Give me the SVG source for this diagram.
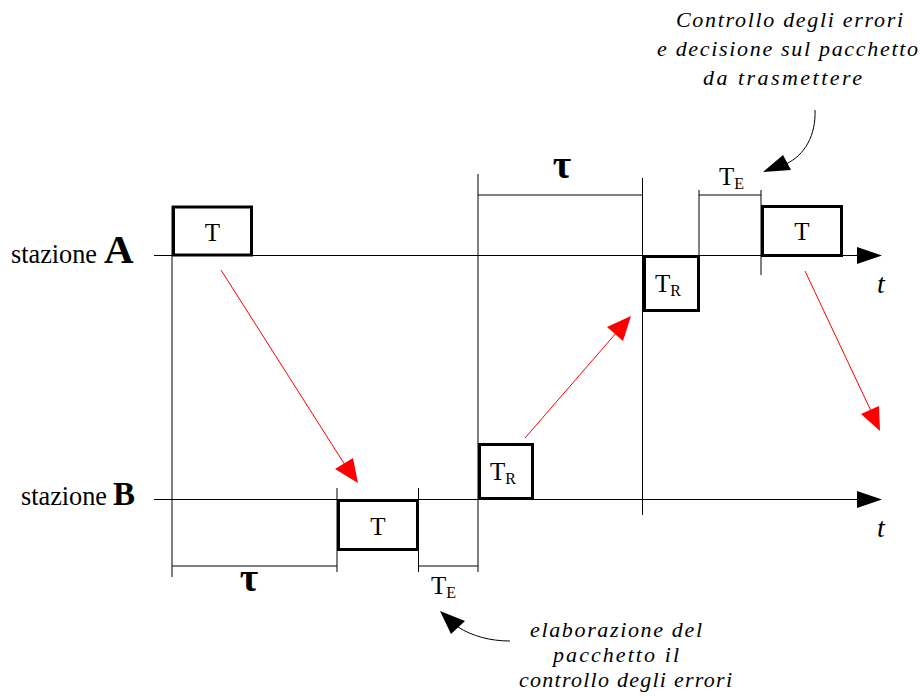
<svg xmlns="http://www.w3.org/2000/svg" width="921" height="700" viewBox="0 0 921 700">
<defs>
<style>
.ln{stroke:#000;stroke-width:1;fill:none}
.box{fill:#fff;stroke:#000;stroke-width:3}
.red{stroke:#ff0000;stroke-width:1;fill:none}
.rh{fill:#ff0000}
.srf{font-family:"Liberation Serif","Times New Roman",serif;fill:#000}
.lbl{font-size:28px}
.big{font-weight:bold}
.bt{font-size:25px}
.sub{font-size:16px}
.tau{font-size:40px;font-weight:bold}
.it{font-style:italic;font-size:22px}
.tt{font-style:italic;font-size:28px}
</style>
</defs>
<rect width="921" height="700" fill="#fff"/>
<g id="connectors">
<line class="ln" x1="154" y1="255.5" x2="860" y2="255.5"/>
<polygon points="857,247 882,255.5 857,264" fill="#000"/>
<line class="ln" x1="154" y1="499.5" x2="860" y2="499.5"/>
<polygon points="857,491 882,499.5 857,508" fill="#000"/>
<line class="ln" x1="172" y1="206" x2="172" y2="577"/>
<line class="ln" x1="337" y1="488" x2="337" y2="572"/>
<line class="ln" x1="418.5" y1="488" x2="418.5" y2="572"/>
<line class="ln" x1="478" y1="174" x2="478" y2="572"/>
<line class="ln" x1="642.5" y1="178" x2="642.5" y2="515"/>
<line class="ln" x1="699" y1="190" x2="699" y2="256"/>
<line class="ln" x1="761" y1="190" x2="761" y2="275"/>
<line class="ln" x1="172" y1="566" x2="337" y2="566"/>
<line class="ln" x1="418.5" y1="566" x2="478" y2="566"/>
<line class="ln" x1="478" y1="195" x2="642.5" y2="195"/>
<line class="ln" x1="699" y1="195" x2="761" y2="195"/>
<line class="red" x1="221" y1="270" x2="345" y2="465"/>
<polygon class="rh" points="358,483 335,469 353,458"/>
<line class="red" x1="525" y1="438" x2="617" y2="332"/>
<polygon class="rh" points="631,316 623,341 607,327"/>
<line class="red" x1="805" y1="271" x2="871" y2="411"/>
<polygon class="rh" points="880,431 861,414 879,406"/>
<path class="ln" d="M815,110 C816,135 805,155 786,164"/>
<polygon points="763,172 783,155 791,170" fill="#000"/>
<path class="ln" d="M510,641 C490,641 472,636 458,627"/>
<polygon points="440,611 465,621 451,634" fill="#000"/>
</g>
<g id="labelA">
<text class="srf lbl" x="11" y="263" textLength="86" lengthAdjust="spacingAndGlyphs">stazione</text>
<text class="srf big" x="104" y="263" style="font-size:41px">A</text>
</g>
<g id="labelB">
<text class="srf lbl" x="21" y="505" textLength="86" lengthAdjust="spacingAndGlyphs">stazione</text>
<text class="srf big" x="113" y="505" style="font-size:33px">B</text>
</g>
<g id="boxA1">
<rect class="box" x="173.5" y="207" width="78" height="48"/>
<text class="srf bt" x="212.5" y="241" text-anchor="middle">T</text>
</g>
<g id="boxB1">
<rect class="box" x="338.5" y="500.5" width="79" height="49"/>
<text class="srf bt" x="378" y="535" text-anchor="middle">T</text>
</g>
<g id="boxB2">
<rect class="box" x="479.5" y="444.5" width="53" height="54"/>
<text class="srf bt" x="490" y="480">T<tspan class="sub" dy="4">R</tspan></text>
</g>
<g id="boxA2">
<rect class="box" x="644.5" y="256.5" width="54" height="54"/>
<text class="srf bt" x="655" y="292">T<tspan class="sub" dy="4">R</tspan></text>
</g>
<g id="boxA3">
<rect class="box" x="762.5" y="206.5" width="79" height="49"/>
<text class="srf bt" x="802" y="240" text-anchor="middle">T</text>
</g>
<g id="dims">
<text class="srf tau" x="249" y="591" text-anchor="middle">τ</text>
<text class="srf tau" x="562" y="178" text-anchor="middle">τ</text>
<text class="srf bt" x="431" y="594">T<tspan class="sub" dy="4">E</tspan></text>
<text class="srf bt" x="719" y="185">T<tspan class="sub" dy="4">E</tspan></text>
<text class="srf tt" x="877" y="293">t</text>
<text class="srf tt" x="877" y="537">t</text>
</g>
<g id="noteTop">
<text class="srf it" x="676" y="27" textLength="227" lengthAdjust="spacing">Controllo degli errori</text>
<text class="srf it" x="657" y="56" textLength="261" lengthAdjust="spacing">e decisione sul pacchetto</text>
<text class="srf it" x="703" y="85" textLength="159" lengthAdjust="spacing">da trasmettere</text>
</g>
<g id="noteBottom">
<text class="srf it" x="530" y="637" textLength="172" lengthAdjust="spacing">elaborazione del</text>
<text class="srf it" x="553" y="662" textLength="126" lengthAdjust="spacing">pacchetto il</text>
<text class="srf it" x="519" y="687" textLength="213" lengthAdjust="spacing">controllo degli errori</text>
</g>
</svg>
